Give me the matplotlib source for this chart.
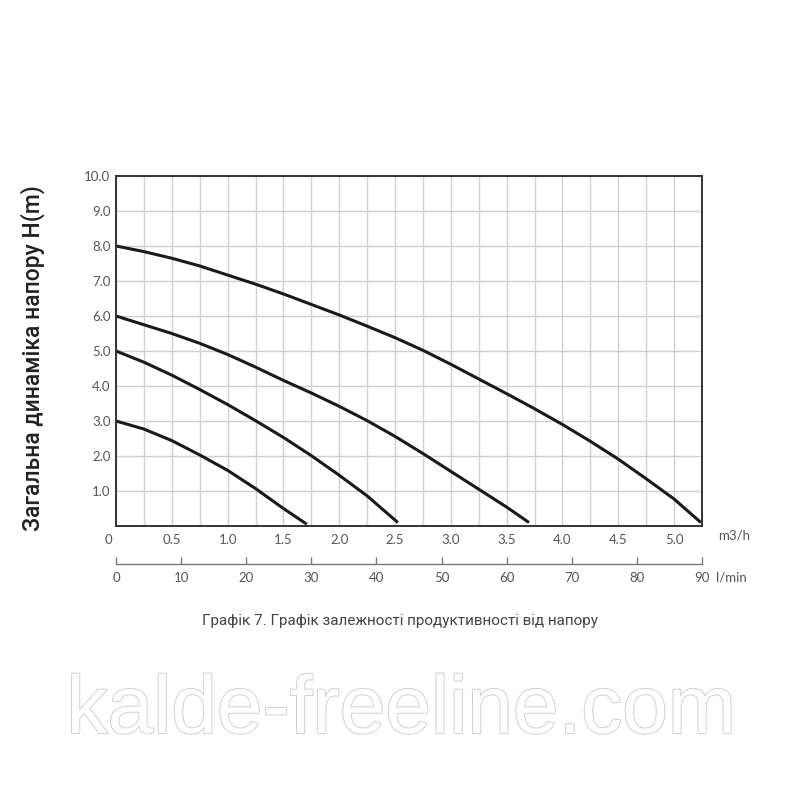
import matplotlib
matplotlib.use("Agg")
import matplotlib.pyplot as plt
import matplotlib.patheffects as pe
import matplotlib.transforms as mtransforms
import numpy as np

# flow, m3/h  ->  head, m (four pump curves)
q1 = [0, 0.25, 0.5, 0.75, 1.0, 1.25, 1.5, 1.75, 2.0, 2.25, 2.5, 2.75, 3.0,
      3.25, 3.5, 3.75, 4.0, 4.25, 4.5, 4.75, 5.0, 5.24]
h1 = [8.0, 7.84, 7.65, 7.43, 7.17, 6.91, 6.63, 6.33, 6.03, 5.71, 5.38, 5.02,
      4.62, 4.2, 3.78, 3.35, 2.9, 2.42, 1.91, 1.35, 0.77, 0.1]
q2 = [0, 0.25, 0.5, 0.75, 1.0, 1.25, 1.5, 1.75, 2.0, 2.25, 2.5, 2.75, 3.0,
      3.25, 3.5, 3.70]
h2 = [6.0, 5.75, 5.5, 5.22, 4.9, 4.54, 4.16, 3.8, 3.42, 3.01, 2.56, 2.07,
      1.56, 1.05, 0.54, 0.1]
q3 = [0, 0.25, 0.5, 0.75, 1.0, 1.25, 1.5, 1.75, 2.0, 2.25, 2.525]
h3 = [5.0, 4.68, 4.31, 3.9, 3.47, 3.01, 2.53, 2.01, 1.45, 0.86, 0.1]
q4 = [0, 0.25, 0.5, 0.75, 1.0, 1.25, 1.5, 1.71]
h4 = [3.0, 2.77, 2.44, 2.03, 1.59, 1.07, 0.5, 0.05]

x_ticks = [0, 0.5, 1.0, 1.5, 2.0, 2.5, 3.0, 3.5, 4.0, 4.5, 5.0]
x_labels = ["0", "0.5", "1.0", "1.5", "2.0", "2.5", "3.0", "3.5", "4.0", "4.5", "5.0"]
y_ticks = [1, 2, 3, 4, 5, 6, 7, 8, 9, 10]
lmin_ticks = [0, 10, 20, 30, 40, 50, 60, 70, 80, 90]

label_col = "#555555"
fig = plt.figure(figsize=(8, 8), dpi=100)

ax = fig.add_axes([0.145, 0.3425, 0.7325, 0.4375])
ax.set_xlim(0, 5.25)
ax.set_ylim(0, 10)
ax.set_xticks(np.arange(0, 5.26, 0.25), minor=True)
ax.set_xticks(x_ticks)
ax.set_xticklabels(x_labels)
ax.set_yticks(y_ticks)
ax.set_yticklabels(["%.1f" % v for v in y_ticks])
ax.grid(True, which="both", color="#cfcfcf", lw=1.0)
ax.tick_params(which="both", length=0, labelsize=9.5, colors=label_col, pad=6)
ax.tick_params(axis="y", pad=4)
for lab in ax.get_xticklabels() + ax.get_yticklabels():
    lab.set_family("Lato")
# the "0" sits a little to the left of the corner
first = ax.get_xticklabels()[0]
first.set_transform(first.get_transform() +
                    mtransforms.ScaledTranslation(-8 / 100, 0, fig.dpi_scale_trans))
for s in ax.spines.values():
    s.set_color("#333333")
    s.set_linewidth(1.4)

for q, h in [(q1, h1), (q2, h2), (q3, h3), (q4, h4)]:
    ax.plot(q, h, color="#1a1a1a", lw=2.2, solid_capstyle="butt",
            solid_joinstyle="round")

ax.set_ylabel("Загальна динаміка напору H(m)", family="Roboto", fontsize=16.5,
              fontweight="medium", color="#222222")
ax.yaxis.set_label_coords(-0.121, 0.48)
ax.text(1.027, -0.028, "m3/h", transform=ax.transAxes, ha="left", va="center",
        family="Lato", fontsize=9.5, color=label_col)

# second flow scale in l/min
ax2 = fig.add_axes([0.145, 0.295, 0.7325, 0.0001])
ax2.set_xlim(0, 90)
ax2.set_xticks(lmin_ticks)
ax2.set_yticks([])
for k in ["top", "left", "right"]:
    ax2.spines[k].set_visible(False)
ax2.spines["bottom"].set_color("#777777")
ax2.spines["bottom"].set_linewidth(1.0)
ax2.tick_params(axis="x", direction="in", length=5, width=1.0, color="#777777",
                labelsize=9.5, labelcolor=label_col, pad=6)
for lab in ax2.get_xticklabels():
    lab.set_family("Lato")
ax2.text(716 / 800, 0.2775, "l/min", transform=fig.transFigure, ha="left",
         va="center", family="Lato", fontsize=9.5, color=label_col)

fig.text(0.5, 0.224, "Графік 7. Графік залежності продуктивності від напору",
         ha="center", va="center", family="Roboto", fontsize=11, color="#444444")

wm = fig.text(0.502, 0.11, "kalde-freeline.com", ha="center", va="center",
              family="Liberation Sans", fontsize=59, color="white")
wm.set_path_effects([pe.withStroke(linewidth=1.4, foreground="#d0d0d0")])

fig.savefig("out.png", dpi=100, facecolor="white")
